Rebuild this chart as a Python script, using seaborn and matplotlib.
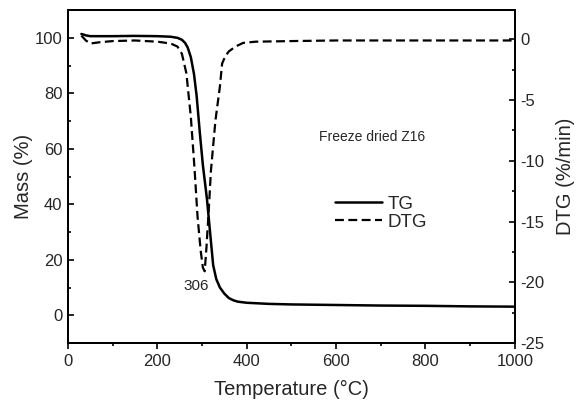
import pandas as pd
import seaborn as sns
import matplotlib.pyplot as plt
from matplotlib.ticker import MultipleLocator

# TG curve (mass %, left axis)
tg_temp = [30, 40, 50, 100, 150, 200, 230, 245, 255, 262, 268, 275, 282, 288, 295, 302,
           311, 318, 325, 332, 340, 350, 360, 370, 380, 400, 450, 500, 600, 700, 800, 900, 1000]
tg_mass = [101.4, 100.9, 100.6, 100.6, 100.7, 100.6, 100.4, 100.0, 99.3, 98.2, 96.5, 93.0,
           87.0, 79.0, 66.0, 54.0, 42.0, 30.0, 18.0, 13.0, 10.0, 7.8, 6.2, 5.4, 4.9, 4.5,
           4.1, 3.9, 3.7, 3.5, 3.4, 3.2, 3.1]

# DTG curve (%/min, right axis)
dtg_temp = [30, 40, 50, 70, 100, 150, 200, 230, 245, 255, 265, 275, 283, 290, 297, 302,
            306, 310, 315, 320, 330, 340, 345, 352, 360, 375, 392, 420, 500, 600, 700, 800, 900, 1000]
dtg_val = [0.3, -0.1, -0.35, -0.25, -0.15, -0.1, -0.2, -0.35, -0.6, -1.2, -2.8, -6.4, -10.5,
           -14.6, -17.4, -18.8, -19.1, -17.1, -14.1, -10.8, -6.7, -3.9, -2.0, -1.4, -1.0,
           -0.6, -0.3, -0.2, -0.15, -0.1, -0.1, -0.1, -0.1, -0.1]

peak_temp = 306

sns.set_style("ticks")
plt.rcParams['font.family'] = ['Liberation Sans', 'DejaVu Sans']
plt.rcParams['axes.unicode_minus'] = False

tg = pd.DataFrame({'Temperature': tg_temp, 'Mass': tg_mass})
dtg = pd.DataFrame({'Temperature': dtg_temp, 'DTG': dtg_val})

fig, ax = plt.subplots(figsize=(5.81, 4.04), dpi=100)
ax2 = ax.twinx()

sns.lineplot(data=tg, x='Temperature', y='Mass', ax=ax, color='black', lw=1.8, label='TG', legend=False)
sns.lineplot(data=dtg, x='Temperature', y='DTG', ax=ax2, color='black', lw=1.6,
             linestyle=(0, (4, 2)), label='DTG', legend=False)

ax.set_xlim(0, 1000)
ax.set_ylim(-10, 110)
ax2.set_ylim(-25, 2.4)

ax.set_xticks([0, 200, 400, 600, 800, 1000])
ax.xaxis.set_minor_locator(MultipleLocator(100))
ax.set_yticks([0, 20, 40, 60, 80, 100])
ax.yaxis.set_minor_locator(MultipleLocator(10))
ax2.set_yticks([0, -5, -10, -15, -20, -25])
ax2.yaxis.set_minor_locator(MultipleLocator(2.5))

for a in (ax, ax2):
    a.tick_params(axis='y', which='major', direction='in', length=4, width=1.2,
                  labelsize=12, color='black', pad=4)
    a.tick_params(axis='y', which='minor', direction='in', length=2.5, width=1.2, color='black')
    for s in a.spines.values():
        s.set_linewidth(1.4)
        s.set_color('black')
ax.tick_params(axis='x', which='major', direction='out', length=4, width=1.2,
               labelsize=12, color='black', pad=4)
ax.tick_params(axis='x', which='minor', direction='out', length=2, width=1.2, color='black')

ax.set_xlabel('Temperature (°C)', fontsize=14.5, labelpad=8)
ax.set_ylabel('Mass (%)', fontsize=14.5, labelpad=1)
ax2.set_ylabel('DTG (%/min)', fontsize=14.5, labelpad=8)

ax.text(0.68, 0.62, 'Freeze dried Z16', transform=ax.transAxes, fontsize=10,
        ha='center', va='center')
ax2.text(288, -20.3, str(peak_temp), fontsize=11, ha='center', va='center')

h1, l1 = ax.get_legend_handles_labels()
h2, l2 = ax2.get_legend_handles_labels()
ax2.legend(h1 + h2, l1 + l2, loc='center left', bbox_to_anchor=(0.56, 0.39), frameon=False,
           fontsize=13.5, handlelength=2.5, handletextpad=0.3, labelspacing=0.05)

fig.subplots_adjust(left=0.117, right=0.886, top=0.975, bottom=0.151)
fig.savefig('out.png', dpi=100)
